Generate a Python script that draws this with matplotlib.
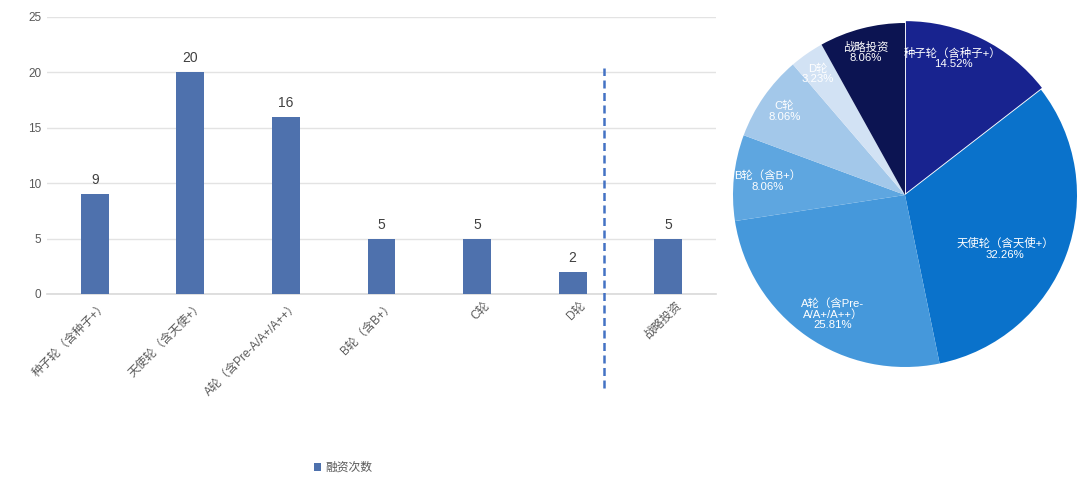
import matplotlib
matplotlib.use("Agg")
import matplotlib.pyplot as plt
import matplotlib.transforms as mtransforms
import numpy as np

plt.rcParams['font.family'] = ['Liberation Sans', 'Noto Sans CJK SC', 'DejaVu Sans']

categories = ['种子轮（含种子+）', '天使轮（含天使+）', 'A轮（含Pre-A/A+/A++）',
              'B轮（含B+）', 'C轮', 'D轮', '战略投资']
counts = [9, 20, 16, 5, 5, 2, 5]
series_name = '融资次数'
y_ticks = [0, 5, 10, 15, 20, 25]

pie_labels = ['种子轮（含种子+）', '天使轮（含天使+）', 'A轮（含Pre-\nA/A+/A++）',
              'B轮（含B+）', 'C轮', 'D轮', '战略投资']
pie_colors = ['#18238f', '#0a72cb', '#4598db', '#5ea6e0', '#a3c8ea', '#d2e2f4', '#0c1452']

fig = plt.figure(figsize=(10.8, 4.84), dpi=100)

# ---- bar chart ----
ax = fig.add_axes([47/1080, 1-294/484, 669/1080, 277/484])
x = np.arange(len(categories))
bars = ax.bar(x, counts, width=0.29, color='#4e71ad', zorder=3, label=series_name)
ax.set_xlim(-0.5, len(categories)-0.5)
ax.set_ylim(0, 25)
ax.set_yticks(y_ticks)
ax.yaxis.grid(True, color='#e3e3e3', linewidth=1, zorder=0)
for s in ['top', 'right', 'left']:
    ax.spines[s].set_visible(False)
ax.spines['bottom'].set_color('#d9d9d9')
ax.spines['bottom'].set_linewidth(1.2)
ax.tick_params(axis='both', length=0, colors='#595959', labelsize=8.5)
ax.tick_params(axis='y', pad=4)
ax.set_xticks(x)
ax.set_xticklabels(categories, rotation=45, ha='right', va='top',
                   rotation_mode='anchor', fontsize=8.5, color='#595959')
ax.tick_params(axis='x', pad=4)
shift = mtransforms.ScaledTranslation(7/100, 0, fig.dpi_scale_trans)
for lbl in ax.get_xticklabels():
    lbl.set_transform(lbl.get_transform() + shift)
for b, v in zip(bars, counts):
    ax.annotate(str(v), (b.get_x()+b.get_width()/2, v), xytext=(0, 5),
                textcoords='offset points', ha='center', va='bottom',
                fontsize=10, color='#404040')
ax.axvline(5.33, ymin=-0.34, ymax=0.816, color='#4472c4', linewidth=1.8,
           linestyle=(0, (3.2, 1.8)), clip_on=False, zorder=4)

fig.legend(handles=[bars], labels=[series_name], loc='center',
           bbox_to_anchor=(343/1080, 1-468/484), frameon=False, fontsize=8.5,
           handlelength=0.6, handleheight=0.6, handletextpad=0.4,
           labelcolor='#595959')

# ---- pie chart ----
cx, cy, r = 905, 195, 172
pax = fig.add_axes([(cx-r)/1080, 1-(cy+r)/484, 2*r/1080, 2*r/484])
explode = [0.012, 0, 0, 0, 0, 0, 0]
wedges, _ = pax.pie(counts, colors=pie_colors, startangle=90, counterclock=False,
                    explode=explode, radius=1.0,
                    wedgeprops=dict(linewidth=0))
pax.set_xlim(-1.0, 1.0)
pax.set_ylim(-1.0, 1.0)
pax.set_aspect('equal')
total = sum(counts)
dists = [0.84, 0.66, 0.81, 0.80, 0.853, 0.87, 0.863]
ang_off = [6.7, -8.0, 3.7, 0.0, 0.0, 1.0, 1.0]
for w, lab, v, d, da in zip(wedges, pie_labels, counts, dists, ang_off):
    mid = np.deg2rad((w.theta1 + w.theta2) / 2 + da)
    pax.text(d*np.cos(mid), d*np.sin(mid), f"{lab}\n{v/total*100:.2f}%",
             ha='center', va='center', color='white', fontsize=8.2,
             linespacing=1.05)

fig.savefig('out.png', dpi=100)
